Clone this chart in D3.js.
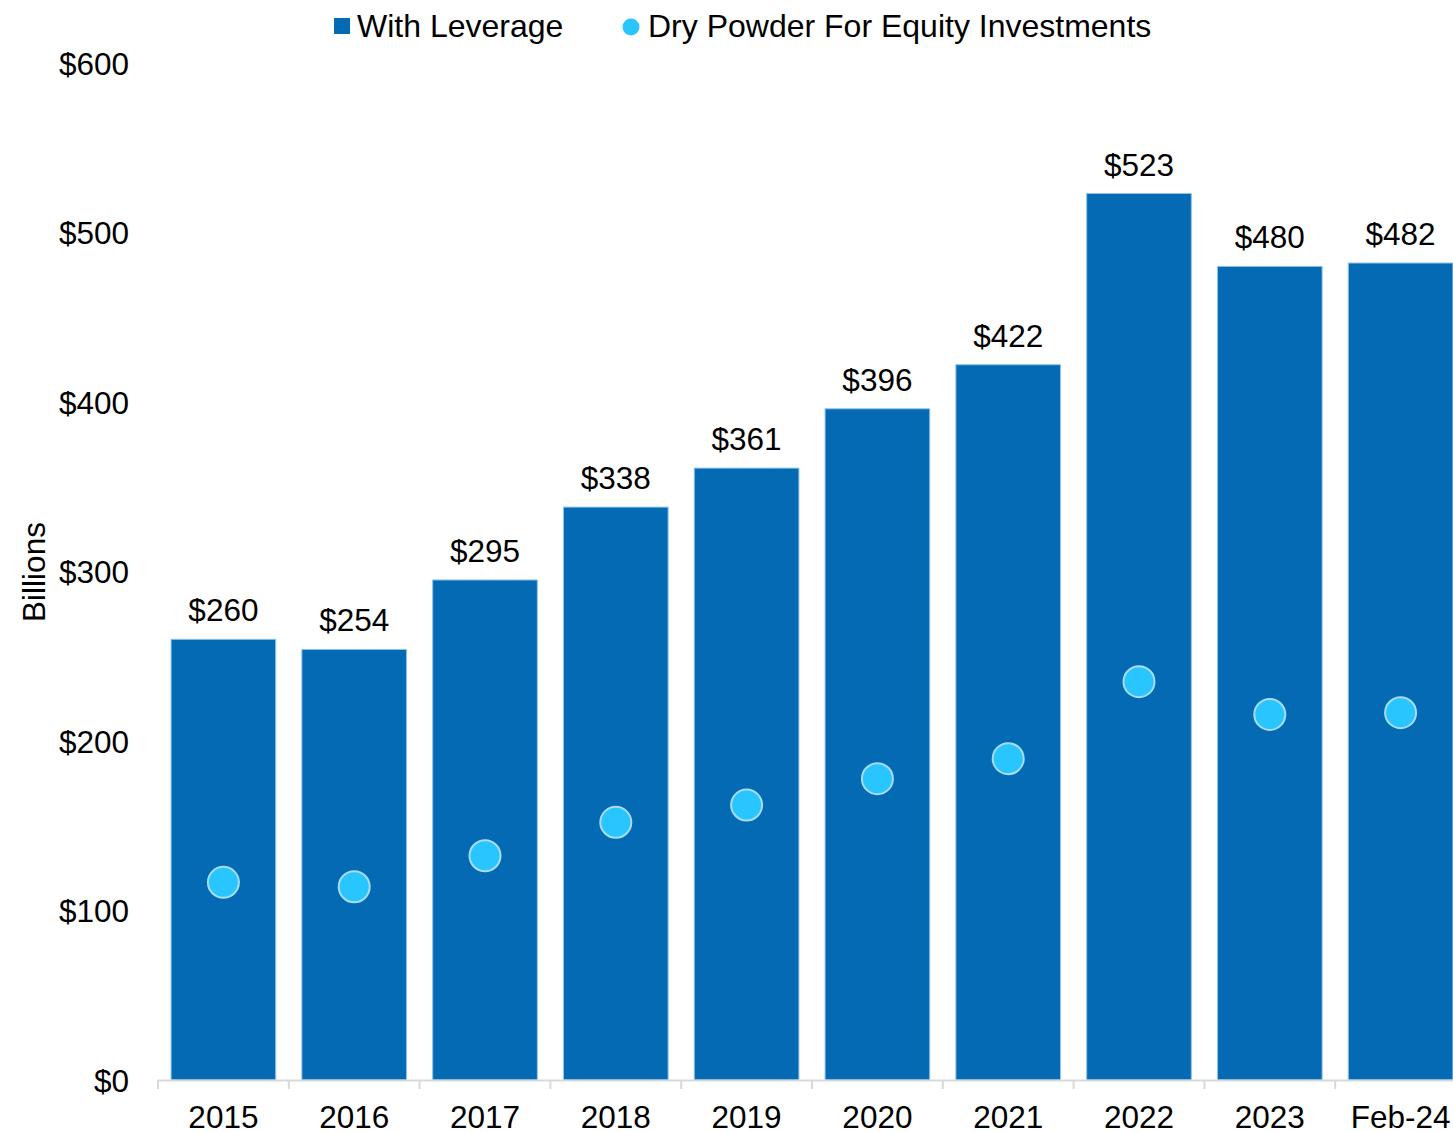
<!DOCTYPE html>
<html>
<head>
<meta charset="utf-8">
<script src="https://cdn.jsdelivr.net/npm/d3@7"></script>
<style>
  html, body { margin: 0; padding: 0; background: #fff; }
  svg { display: block; }
  text { font-family: "Liberation Sans", Arial, sans-serif; fill: #000; }
</style>
</head>
<body>
<svg id="chart" width="1453" height="1132"></svg>
<script>
// Chart data (billions of dollars)
const categories = ["2015", "2016", "2017", "2018", "2019", "2020", "2021", "2022", "2023", "Feb-24"];
const withLeverage = [260, 254, 295, 338, 361, 396, 422, 523, 480, 482];
const dryPowder = [116.6, 114.0, 132.3, 152.0, 162.2, 177.8, 189.6, 235.0, 215.7, 216.7];
const yTicks = [0, 100, 200, 300, 400, 500, 600];
const seriesNames = ["With Leverage", "Dry Powder For Equity Investments"];

const barColor = "#046ab4";
const barStroke = "#8fc3ea";
const dotColor = "#29c5ff";
const dotStroke = "#a8dcf7";
const fontSize = 31.5;
const legendFontSize = 32;

const svg = d3.select("#chart");

const x = d3.scaleBand()
  .domain(categories)
  .range([158, 1466])
  .paddingInner(0.2)
  .paddingOuter(0.1);

const y = d3.scaleLinear()
  .domain([0, 600])
  .range([1080, 63]);

// Bars
svg.append("g")
  .selectAll("rect")
  .data(categories)
  .join("rect")
  .attr("x", d => x(d))
  .attr("y", (d, i) => y(withLeverage[i]))
  .attr("width", x.bandwidth())
  .attr("height", (d, i) => y(0) - y(withLeverage[i]))
  .attr("fill", barColor)
  .attr("stroke", barStroke)
  .attr("stroke-width", 1);

// Bar value labels
svg.append("g")
  .selectAll("text")
  .data(categories)
  .join("text")
  .attr("x", d => x(d) + x.bandwidth() / 2)
  .attr("y", (d, i) => y(withLeverage[i]) - 18)
  .attr("text-anchor", "middle")
  .style("font-size", fontSize + "px")
  .text((d, i) => "$" + withLeverage[i]);

// Dry powder points
svg.append("g")
  .selectAll("circle")
  .data(categories)
  .join("circle")
  .attr("cx", d => x(d) + x.bandwidth() / 2)
  .attr("cy", (d, i) => y(dryPowder[i]))
  .attr("r", 15.5)
  .attr("fill", dotColor)
  .attr("stroke", dotStroke)
  .attr("stroke-width", 2);

// X axis: baseline with ticks at band edges
const xAxisG = svg.append("g");
xAxisG.append("line")
  .attr("x1", 158).attr("x2", 1466)
  .attr("y1", 1080.5).attr("y2", 1080.5)
  .attr("stroke", "#d9d9d9").attr("stroke-width", 2);
const edges = categories.map(d => x(d) - x.step() * x.paddingInner() / 2);
edges[0] = 158;
xAxisG.selectAll("line.tick")
  .data(edges)
  .join("line")
  .attr("class", "tick")
  .attr("x1", d => d).attr("x2", d => d)
  .attr("y1", 1080).attr("y2", 1089)
  .attr("stroke", "#d9d9d9").attr("stroke-width", 2);
xAxisG.selectAll("text")
  .data(categories)
  .join("text")
  .attr("x", d => x(d) + x.bandwidth() / 2)
  .attr("y", 1128)
  .attr("text-anchor", "middle")
  .style("font-size", fontSize + "px")
  .text(d => d);

// Y axis labels (no axis line)
const yAxis = d3.axisLeft(y)
  .tickValues(yTicks)
  .tickSize(0)
  .tickPadding(0)
  .tickFormat(d => "$" + d);
const yAxisG = svg.append("g")
  .attr("transform", "translate(129,1)")
  .call(yAxis);
yAxisG.select(".domain").remove();
yAxisG.selectAll("text")
  .attr("fill", "#000")
  .style("font-size", fontSize + "px")
  .style("font-family", "'Liberation Sans', Arial, sans-serif");

// Y axis title
svg.append("text")
  .attr("transform", "translate(45,572) rotate(-90)")
  .attr("text-anchor", "middle")
  .style("font-size", fontSize + "px")
  .text("Billions");

// Legend
const legend = svg.append("g");
legend.append("rect")
  .attr("x", 334).attr("y", 18)
  .attr("width", 16).attr("height", 16)
  .attr("fill", barColor);
legend.append("text")
  .attr("x", 357).attr("y", 37)
  .style("font-size", legendFontSize + "px")
  .text(seriesNames[0]);
legend.append("circle")
  .attr("cx", 631).attr("cy", 27).attr("r", 8.5)
  .attr("fill", dotColor);
legend.append("text")
  .attr("x", 648).attr("y", 37)
  .style("font-size", legendFontSize + "px")
  .text(seriesNames[1]);
</script>
</body>
</html>
